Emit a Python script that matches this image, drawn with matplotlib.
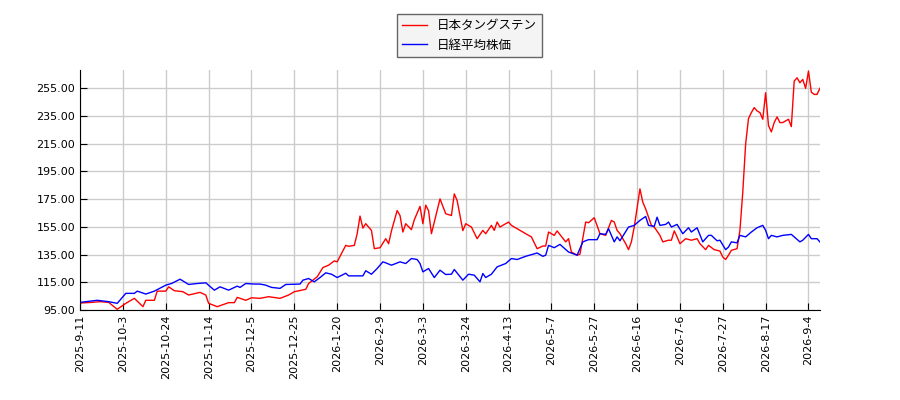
import matplotlib
matplotlib.use('Agg')
import matplotlib.pyplot as plt

plt.rcParams['font.family'] = ['Noto Sans CJK JP', 'DejaVu Sans']

# x = trading day number since 2025-9-11, y = index (start = 100)

# 日本タングステン
red_day = [
    0, 4, 7, 10, 13, 16, 19, 22, 23, 26, 27, 30, 31, 33, 36, 38, 42, 44, 45, 48,
    52, 54, 55, 58, 60, 63, 66, 70, 73, 75, 79, 80, 83, 85, 87, 89, 90, 91, 93, 94,
    96, 97, 98, 99, 100, 102, 103, 105, 107, 108, 109, 111, 112, 113, 114, 116, 117, 119, 120, 121,
    122, 123, 126, 128, 130, 131, 132, 134, 135, 137, 139, 141, 142, 144, 145, 146, 147, 150, 151, 154,
    157, 158, 160, 162, 163, 164, 166, 167, 170, 171, 172, 174, 175, 177, 178, 180, 182, 184, 186, 187,
    188, 189, 191, 192, 193, 194, 196, 197, 198, 199, 200, 201, 203, 204, 206, 207, 208, 209, 210, 212,
    214, 216, 217, 219, 220, 222, 224, 225, 226, 227, 228, 230, 231, 232, 233, 234, 235, 236, 237, 238,
    239, 240, 241, 242, 243, 244, 245, 246, 248, 249, 250, 251, 252, 253, 254, 255, 256, 257, 258, 259,
]
red_values = [
    100.0, 100.5, 101.0, 100.5, 95.5, 99.8, 103.4, 97.4, 102.0, 102.0,
    108.6, 108.6, 111.7, 108.9, 108.2, 105.8, 107.7, 105.8, 99.8, 97.4,
    100.3, 100.3, 104.1, 102.0, 103.8, 103.4, 104.6, 103.4, 105.8, 108.2,
    109.9, 114.1, 118.9, 125.6, 127.3, 130.4, 129.7, 133.7, 141.6, 140.9,
    141.6, 150.0, 162.7, 154.0, 157.2, 152.4, 139.2, 139.9, 146.4, 142.8,
    152.0, 166.7, 163.1, 151.2, 157.2, 152.9, 160.0, 169.7, 157.2, 170.6,
    166.5, 150.0, 175.1, 164.4, 163.1, 178.7, 173.9, 152.2, 157.2, 154.8,
    146.4, 152.4, 150.0, 156.0, 152.4, 158.4, 154.8, 158.4, 156.0, 152.4,
    148.8, 147.7, 139.2, 141.1, 141.1, 151.2, 148.8, 152.0, 144.1, 146.4,
    136.8, 134.5, 135.2, 158.4, 157.9, 161.5, 150.0, 148.8, 159.6, 158.4,
    152.4, 150.0, 142.8, 138.5, 144.1, 154.8, 182.3, 172.7, 167.9, 161.9,
    156.0, 154.8, 148.8, 144.1, 145.3, 145.3, 152.0, 147.7, 142.8, 146.4,
    145.3, 146.4, 142.8, 138.5, 141.6, 138.5, 137.5, 133.2, 131.4, 134.5,
    138.0, 139.2, 152.4, 180.0, 214.6, 233.0, 237.3, 240.9, 238.5, 237.3,
    232.5, 251.6, 228.0, 223.4, 230.1, 234.2, 230.1, 230.1, 232.5, 227.2,
    260.0, 262.4, 258.8, 261.2, 254.8, 267.2, 252.0, 250.4, 250.4, 254.8,
]

# 日経平均株価
blue_day = [
    0, 6, 10, 13, 16, 19, 20, 23, 26, 30, 32, 35, 38, 41, 44, 47, 49, 52, 55, 56,
    58, 61, 63, 65, 67, 70, 72, 77, 78, 80, 82, 84, 86, 88, 90, 93, 94, 99, 100, 102,
    104, 106, 107, 109, 112, 114, 116, 118, 119, 120, 122, 124, 126, 128, 130, 131, 134, 136, 138, 140,
    141, 142, 144, 146, 149, 151, 153, 156, 160, 162, 163, 164, 166, 168, 171, 174, 176, 178, 181, 182,
    184, 185, 187, 188, 189, 192, 194, 196, 198, 199, 201, 202, 203, 205, 206, 207, 209, 211, 213, 214,
    216, 218, 220, 221, 223, 224, 226, 227, 228, 230, 231, 233, 235, 237, 239, 240, 241, 242, 244, 246,
    249, 252, 253, 255, 256, 258, 259,
]
blue_values = [
    100.5, 102.0, 101.0, 99.8, 107.0, 107.0, 108.6, 106.5, 108.6, 112.9,
    114.1, 117.2, 113.4, 114.1, 114.6, 109.3, 111.7, 109.3, 112.2, 111.3,
    114.1, 113.7, 113.7, 112.9, 111.3, 110.6, 113.4, 113.7, 116.5, 117.7,
    115.3, 118.4, 121.8, 120.8, 118.4, 121.5, 119.6, 119.6, 123.3, 120.8,
    124.9, 129.7, 129.0, 127.3, 129.7, 128.5, 132.1, 131.4, 128.5, 122.5,
    124.9, 118.4, 123.7, 120.6, 120.8, 124.2, 116.5, 120.8, 120.1, 115.3,
    121.3, 118.4, 120.8, 126.1, 128.5, 132.1, 131.4, 133.7, 136.1, 133.7,
    134.5, 141.6, 139.9, 142.3, 136.8, 134.5, 144.1, 145.7, 145.7, 150.0,
    149.5, 153.6, 144.1, 147.7, 144.9, 154.8, 156.0, 159.6, 162.4, 156.0,
    155.3, 161.9, 156.0, 156.7, 158.4, 154.8, 156.7, 150.0, 154.3, 151.2,
    154.3, 144.1, 148.8, 148.8, 144.9, 145.3, 138.5, 140.4, 144.1, 143.4,
    148.8, 147.7, 151.2, 154.3, 156.0, 152.4, 146.4, 148.8, 147.7, 148.8,
    149.5, 144.1, 145.3, 149.5, 146.4, 146.4, 144.1,
]

# one label every 15 trading days
tick_labels = [
    '2025-9-11', '2025-10-3', '2025-10-24', '2025-11-14', '2025-12-5', '2025-12-25',
    '2026-1-20', '2026-2-9', '2026-3-3', '2026-3-24', '2026-4-13', '2026-5-7',
    '2026-5-27', '2026-6-16', '2026-7-6', '2026-7-27', '2026-8-17', '2026-9-4',
]
yticks = [95, 115, 135, 155, 175, 195, 215, 235, 255]

fig = plt.figure(figsize=(9, 4), dpi=100)
ax = fig.add_axes([0.089, 0.225, 0.822, 0.6])

ax.plot(red_day, red_values, color='red', linewidth=1, label='日本タングステン')
ax.plot(blue_day, blue_values, color='blue', linewidth=1, label='日経平均株価')

ax.set_xlim(0, 259)
ax.set_ylim(95, 268)

ax.set_xticks(range(0, 15 * len(tick_labels), 15))
ax.set_xticklabels(tick_labels, rotation=90, family=['DejaVu Sans'])
ax.set_yticks(yticks)
ax.set_yticklabels([f'{v:.2f}' for v in yticks], family=['DejaVu Sans'])
ax.tick_params(direction='in', length=5, labelsize=8, color='black')

ax.grid(True, color='#cccccc', linewidth=1)
ax.set_axisbelow(True)
ax.spines['top'].set_visible(False)
ax.spines['right'].set_visible(False)

fig.legend(loc='upper center', bbox_to_anchor=(0.522, 0.98), fontsize=9,
           fancybox=False, edgecolor='#666666', facecolor='#f4f4f4', framealpha=1)

fig.savefig('out.png', dpi=100)
